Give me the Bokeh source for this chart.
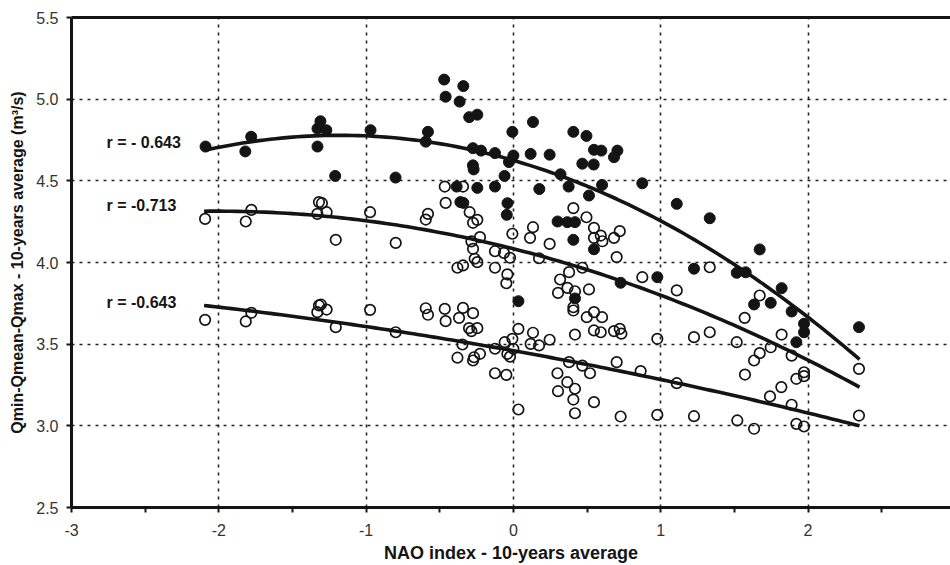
import numpy as np
from bokeh.plotting import figure
from bokeh.models import Range1d, FixedTicker, PrintfTickFormatter, Label, LinearAxis
from bokeh.embed import file_html
from bokeh.resources import INLINE

# ---- data ----
qmax_nao = [-2.09, -1.82, -1.78, -1.33, -1.33, -1.31, -1.27, -1.21, -0.97, -0.80,
            -0.58, -0.595, -0.47, -0.34, -0.46, -0.365, -0.30, -0.245, -0.275, -0.22,
            -0.275, -0.27, -0.125, -0.007, 0.0, -0.03, -0.06, 0.133, 0.117, 0.246,
            0.32, 0.176, 0.375, 0.407, 0.496, 0.547, 0.597, 0.468, 0.545, 0.706,
            0.683, 0.602, 0.513, 0.875, -0.385, -0.245, -0.125, -0.36, -0.34, -0.04,
            -0.045, 0.30, 0.366, 0.418, 0.407, 0.547, 0.728, 0.418, 0.034, 1.109,
            1.333, 1.672, 1.226, 0.977, 1.516, 1.577, 1.821, 1.634, 1.747, 1.889,
            1.973, 1.973, 1.921, 2.346]
qmax_val = [4.71, 4.68, 4.77, 4.71, 4.82, 4.865, 4.81, 4.53, 4.81, 4.52,
            4.80, 4.74, 5.12, 5.08, 5.015, 4.985, 4.89, 4.905, 4.70, 4.685,
            4.595, 4.57, 4.67, 4.80, 4.655, 4.615, 4.53, 4.86, 4.665, 4.66,
            4.54, 4.45, 4.465, 4.80, 4.775, 4.69, 4.685, 4.605, 4.60, 4.685,
            4.645, 4.475, 4.41, 4.485, 4.465, 4.457, 4.465, 4.37, 4.365, 4.363,
            4.292, 4.251, 4.247, 4.247, 4.139, 4.081, 3.876, 3.78, 3.763, 4.359,
            4.271, 4.08, 3.962, 3.91, 3.937, 3.94, 3.843, 3.743, 3.753, 3.70,
            3.625, 3.573, 3.512, 3.604]

qmean_nao = [-2.093, -1.817, -1.779, -1.32, -1.30, -1.268, -1.331, -1.206, -0.973, -0.799,
             -0.58, -0.595, -0.466, -0.46, -0.342, -0.297, -0.245, -0.274, -0.227, -0.285,
             -0.274, -0.263, -0.245, -0.38, -0.342, -0.125, -0.064, -0.023, -0.007, -0.125,
             -0.041, -0.048, 0.133, 0.113, 0.246, 0.174, 0.407, 0.496, 0.547, 0.547,
             0.593, 0.604, 0.722, 0.683, 0.701, 0.468, 0.378, 0.317, 0.367, 0.418,
             0.513, 0.303, 0.407, 0.407, 0.875, 1.109, 1.333, 1.672, 1.226, 0.977,
             1.333, 1.516, 1.57, 1.821, 1.634, 1.672, 1.747, 1.889, 1.973, 1.921,
             1.973, 2.346]
qmean_val = [4.267, 4.251, 4.322, 4.37, 4.363, 4.308, 4.298, 4.139, 4.308, 4.12,
             4.298, 4.263, 4.465, 4.365, 4.465, 4.308, 4.261, 4.243, 4.155, 4.129,
             4.084, 4.023, 4.002, 3.968, 3.982, 4.069, 4.059, 4.029, 4.176, 3.968,
             3.927, 3.873, 4.216, 4.151, 4.114, 4.026, 4.333, 4.277, 4.212, 4.151,
             4.165, 4.13, 4.192, 4.151, 4.033, 3.968, 3.941, 3.896, 3.845, 3.824,
             3.835, 3.814, 3.726, 3.706, 3.91, 3.829, 3.971, 3.798, 3.543, 3.533,
             3.573, 3.512, 3.661, 3.559, 3.40, 3.445, 3.481, 3.43, 3.328, 3.288,
             3.304, 3.349]

qmin_nao = [-2.093, -1.817, -1.779, -1.32, -1.307, -1.268, -1.331, -1.206, -0.973, -0.799,
            -0.595, -0.58, -0.466, -0.342, -0.274, -0.369, -0.46, -0.301, -0.245, -0.285,
            -0.346, -0.38, -0.267, -0.227, -0.274, -0.125, -0.059, -0.007, -0.023, -0.041,
            0.0, 0.034, 0.133, 0.117, 0.174, 0.246, -0.125, -0.048, 0.299, 0.378,
            0.468, 0.52, 0.418, 0.498, 0.547, 0.602, 0.547, 0.593, 0.683, 0.722,
            0.733, 0.701, 0.864, 0.366, 0.418, 0.303, 0.407, 0.547, 0.418, 0.034,
            0.728, 1.109, 0.977, 1.226, 1.52, 1.634, 1.572, 1.742, 1.819, 1.889,
            1.921, 1.973, 2.346]
qmin_val = [3.649, 3.639, 3.692, 3.737, 3.743, 3.712, 3.696, 3.604, 3.71, 3.573,
            3.72, 3.68, 3.716, 3.722, 3.69, 3.661, 3.641, 3.598, 3.598, 3.58,
            3.498, 3.417, 3.42, 3.441, 3.40, 3.472, 3.512, 3.533, 3.424, 3.441,
            3.472, 3.594, 3.57, 3.502, 3.492, 3.527, 3.322, 3.312, 3.322, 3.39,
            3.369, 3.322, 3.559, 3.665, 3.696, 3.665, 3.584, 3.573, 3.58, 3.594,
            3.564, 3.39, 3.335, 3.267, 3.227, 3.212, 3.161, 3.145, 3.077, 3.10,
            3.057, 3.261, 3.067, 3.059, 3.033, 2.982, 3.314, 3.18, 3.237, 3.129,
            3.012, 2.996, 3.063]

# polynomial (order 2) trend lines as drawn: [c0, c1, c2], over the NAO span
trend_qmax = [4.625, -0.26, -0.11]
trend_qmean = [4.084, -0.228, -0.0564]
trend_qmin = [3.46, -0.162, -0.01434]
trend_span = [-2.1, 2.35]

r_labels = ["r = - 0.643", "r = -0.713", "r = -0.643"]
r_label_y = [4.737, 4.349, 3.757]

x_ticks = [-3, -2, -1, 0, 1, 2, 3]
x_minor = [-2.5, -1.5, -0.5, 0.5, 1.5, 2.5]
y_ticks = [2.5, 3.0, 3.5, 4.0, 4.5, 5.0, 5.5]

x_title = "NAO index - 10-years average"
y_title = "Qmin-Qmean-Qmax - 10-years average (m\u00b3/s)"

# ---- figure ----
FONT = "Liberation Sans"
INK = "#141414"

p = figure(width=950, height=565, output_backend="svg", toolbar_location=None,
           x_range=Range1d(-3, 2.9674), y_range=Range1d(2.5, 5.5),
           min_border_left=71, min_border_right=0, min_border_top=17,
           min_border_bottom=58)
p.outline_line_color = None
p.background_fill_color = "white"
p.border_fill_color = "white"

p.xaxis.ticker = FixedTicker(ticks=x_ticks, minor_ticks=x_minor)
p.xaxis.formatter = PrintfTickFormatter(format="%d")
p.yaxis.ticker = FixedTicker(ticks=y_ticks)
p.yaxis.formatter = PrintfTickFormatter(format="%.1f")
for ax in (p.xaxis, p.yaxis):
    ax.axis_line_width = 3
    ax.axis_line_color = INK
    ax.major_tick_in = 0
    ax.major_tick_out = 5
    ax.major_tick_line_width = 2
    ax.major_tick_line_color = INK
    ax.major_label_text_font = FONT
    ax.major_label_text_font_size = "16px"
    ax.major_label_text_color = "#333333"
    ax.axis_label_text_font = FONT
    ax.axis_label_text_font_style = "bold"
    ax.axis_label_text_color = INK
p.xaxis.minor_tick_in = 0
p.xaxis.minor_tick_out = 5
p.xaxis.minor_tick_line_width = 2
p.xaxis.minor_tick_line_color = INK
p.yaxis.minor_tick_line_color = None
p.xaxis.major_label_standoff = 11
p.yaxis.major_label_standoff = 8

p.xaxis.axis_label = x_title
p.xaxis.axis_label_text_font_size = "18px"
p.xaxis.axis_label_standoff = 4
p.yaxis.axis_label = y_title
p.yaxis.axis_label_text_font_size = "16px"
p.yaxis.axis_label_standoff = 7

# top border line
top = LinearAxis(ticker=FixedTicker(ticks=[]), axis_line_width=3, axis_line_color=INK,
                 major_tick_line_color=None, minor_tick_line_color=None)
p.add_layout(top, "above")

for g in (p.xgrid, p.ygrid):
    g.grid_line_color = "#222222"
    g.grid_line_width = 1.6
    g.grid_line_dash = "3 5"

# trend lines
for coef in (trend_qmax, trend_qmean, trend_qmin):
    xs = np.linspace(trend_span[0], trend_span[1], 120)
    ys = coef[0] + coef[1] * xs + coef[2] * xs ** 2
    p.line(xs, ys, line_color=INK, line_width=3.6)

# scatter points
p.scatter(qmean_nao, qmean_val, marker="circle", size=10.5, fill_color=None,
          line_color=INK, line_width=1.7)
p.scatter(qmin_nao, qmin_val, marker="circle", size=10.5, fill_color=None,
          line_color=INK, line_width=1.7)
p.scatter(qmax_nao, qmax_val, marker="circle", size=11, fill_color=INK,
          line_color=INK, line_width=1)

# r labels
for txt, yv in zip(r_labels, r_label_y):
    p.add_layout(Label(x=-2.762, y=yv, text=txt, text_font=FONT,
                       text_font_size="16px", text_font_style="bold",
                       text_color=INK, text_align="left", text_baseline="middle"))

open("out.html", "w").write(file_html(p, INLINE))
